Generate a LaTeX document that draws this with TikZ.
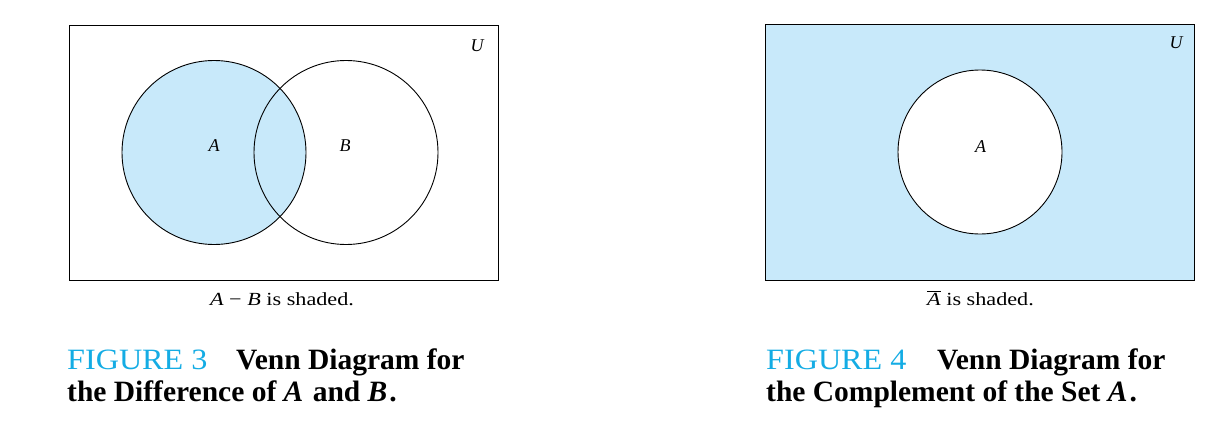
\documentclass[tikz,border=0pt]{standalone}
\usepackage{fontspec}
\setmainfont{Liberation Serif}
\newfontfamily\legendfont[FakeStretch=1.2]{Liberation Serif}
\usetikzlibrary{calc}
\definecolor{vennblue}{RGB}{200,233,250}
\definecolor{figblue}{RGB}{20,172,228}
\tikzstyle{setline} = [draw=black, line width=0.9pt]
\tikzstyle{letter} = [inner sep=0pt, font=\fontsize{18}{20}\selectfont\itshape]
\tikzstyle{legend} = [inner sep=0pt, anchor=base, font=\legendfont\fontsize{18.5}{20}\selectfont]
\tikzstyle{caption} = [inner sep=0pt, anchor=base west, font=\fontsize{29.5}{32.4}\selectfont]

\begin{document}
\begin{tikzpicture}[x=1pt, y=-1pt]

        \useasboundingbox (0,0) rectangle (1217,428);

        %% figure 3 : difference
        \fill[vennblue] (214,152.5) circle (92);
        \draw[setline] (69,25) rectangle (498,280);
        \draw[setline] (214,152.5) circle (92);
        \draw[setline] (346,152.5) circle (92);

        \node (U1) [letter] at (477,46) {U};
        \node (A1) [letter] at (214,146) {A};
        \node (B1) [letter] at (345,146) {B};

        \node (L1) [legend] at (282,305) {\textit{A} − \textit{B} is shaded.};

        \node (T1) [caption] at (67,369.3) {\begin{tabular}[t]{@{}l@{}}
            \makebox[169pt][l]{\color{figblue}\scalebox{1.09}[1]{FIGURE 3}}\textbf{Venn Diagram for} \\
            \textbf{the Difference of \textit{A}\hspace{2pt} and \textit{B}\hspace{2pt}.}
        \end{tabular}};


        %% figure 4 : complement
        \fill[vennblue] (765,24.5) rectangle (1194,280);
        \draw[setline] (765,24.5) rectangle (1194,280);
        \filldraw[setline, fill=white] (980,152) circle (82);

        \node (U2) [letter] at (1176,43) {U};
        \node (A2) [letter] at (980.5,146.5) {A};

        \node (L2) [legend] at (980.5,305) {$\overline{\mbox{\textit{A}}}$ is shaded.};

        \node (T2) [caption] at (766,369.3) {\begin{tabular}[t]{@{}l@{}}
            \makebox[171pt][l]{\color{figblue}\scalebox{1.09}[1]{FIGURE 4}}\textbf{Venn Diagram for} \\
            \textbf{the Complement of the Set \textit{A}\hspace{2pt}.}
        \end{tabular}};

    \end{tikzpicture}
\end{document}
